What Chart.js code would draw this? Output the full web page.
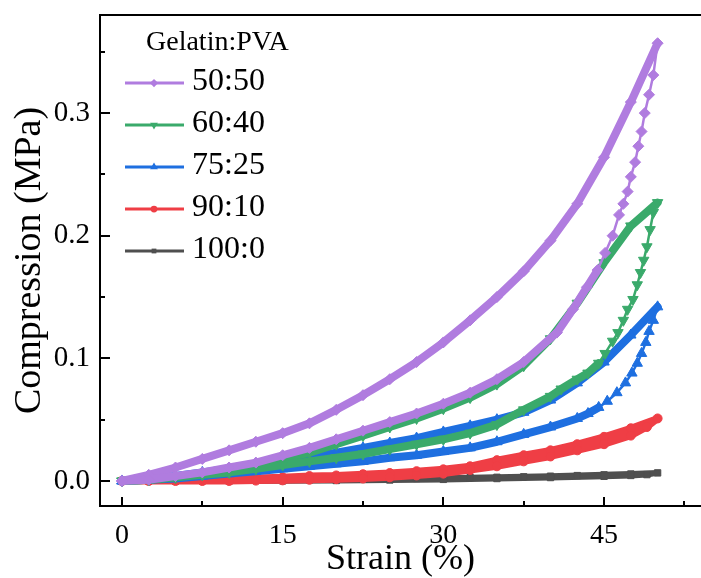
<!DOCTYPE html>
<html>
<head>
<meta charset="utf-8">
<script src="https://cdn.jsdelivr.net/npm/chart.js@4.4.0/dist/chart.umd.min.js"></script>
<style>
  html, body { margin: 0; padding: 0; background: #fff; }
  canvas { display: block; }
</style>
</head>
<body>
<canvas id="chart" width="701" height="578"></canvas>
<script>
// series names and colours
const labels = ["50:50", "60:40", "75:25", "90:10", "100:0"];
const colors = ["#b07cdf", "#3aaa6b", "#1e6fe0", "#ef3e45", "#4f4f4f"];

// loading branch, strain (%) shared by every ratio
const strainLoad = [0, 2.5, 5, 7.5, 10, 12.5, 15, 17.5, 20, 22.5, 25, 27.5, 30, 32.5, 35, 37.5, 40, 42.5, 45, 47.5, 50];
const load5050 = [0, 0.005, 0.011, 0.018, 0.025, 0.032, 0.039, 0.047, 0.058, 0.070, 0.083, 0.097, 0.113, 0.131, 0.150, 0.171, 0.196, 0.226, 0.264, 0.309, 0.357];
const load6040 = [0, 0.001, 0.003, 0.006, 0.009, 0.013, 0.018, 0.023, 0.030, 0.037, 0.044, 0.051, 0.059, 0.068, 0.079, 0.094, 0.116, 0.145, 0.178, 0.208, 0.227];
const load7525 = [0, 0.002, 0.004, 0.007, 0.010, 0.013, 0.017, 0.020, 0.023, 0.027, 0.031, 0.035, 0.040, 0.045, 0.050, 0.056, 0.066, 0.080, 0.097, 0.119, 0.142];
const load9010 = [0, 0.0005, 0.001, 0.0015, 0.002, 0.0025, 0.003, 0.004, 0.0045, 0.0055, 0.0065, 0.008, 0.0095, 0.012, 0.017, 0.021, 0.025, 0.030, 0.036, 0.043, 0.051];
const load1000 = [0, 0, 0.0001, 0.0002, 0.0003, 0.0005, 0.0007, 0.0009, 0.0011, 0.0014, 0.0017, 0.002, 0.0023, 0.0027, 0.003, 0.0034, 0.0039, 0.0044, 0.005, 0.0057, 0.0066];

// unloading branches (strain going back to 0)
const strainUnload5050 = [50, 49.6, 49.2, 48.8, 48.5, 48.2, 47.9, 47.5, 47.2, 46.8, 46.4, 45.8, 45.1, 44.4, 43.4, 42.1, 40.6, 37.5, 35, 32.5, 30, 27.5, 25, 22.5, 20, 17.5, 15, 12.5, 10, 7.5, 5, 2.5, 0];
const unload5050 = [0.357, 0.331, 0.315, 0.300, 0.285, 0.273, 0.260, 0.248, 0.236, 0.226, 0.217, 0.200, 0.186, 0.172, 0.158, 0.140, 0.121, 0.097, 0.083, 0.072, 0.063, 0.055, 0.048, 0.041, 0.034, 0.027, 0.021, 0.015, 0.011, 0.007, 0.004, 0.001, 0];
const strainUnload6040 = [50, 49.6, 49.3, 49.0, 48.7, 48.4, 48.1, 47.7, 47.2, 46.8, 46.3, 45.8, 45.1, 44.5, 43.5, 42.5, 41, 40, 37.5, 35, 32.5, 30, 27.5, 25, 22.5, 20, 17.5, 15, 12.5, 10, 7.5, 5, 2.5, 0];
const unload6040 = [0.227, 0.219, 0.205, 0.191, 0.180, 0.170, 0.160, 0.148, 0.140, 0.131, 0.121, 0.114, 0.104, 0.096, 0.088, 0.083, 0.075, 0.069, 0.058, 0.046, 0.039, 0.034, 0.030, 0.026, 0.022, 0.019, 0.016, 0.013, 0.010, 0.007, 0.005, 0.003, 0.001, 0];
const strainUnload7525 = [50, 49.6, 49.2, 48.9, 48.5, 48.1, 47.6, 47.0, 46.2, 45.3, 44.5, 43.5, 42.5, 40, 37.5, 35, 32.5, 30, 27.5, 25, 22.5, 20, 17.5, 15, 12.5, 10, 7.5, 5, 2.5, 0];
const unload7525 = [0.142, 0.131, 0.122, 0.113, 0.104, 0.096, 0.088, 0.080, 0.072, 0.065, 0.060, 0.055, 0.051, 0.044, 0.038, 0.032, 0.027, 0.024, 0.021, 0.019, 0.016, 0.014, 0.012, 0.010, 0.008, 0.006, 0.004, 0.002, 0.001, 0];
const strainUnload9010 = [50, 49, 47.5, 45, 42.5, 40, 37.5, 35, 32.5, 30, 27.5, 25, 22.5, 20, 17.5, 15, 12.5, 10, 7.5, 5, 2.5, 0];
const unload9010 = [0.051, 0.044, 0.037, 0.030, 0.025, 0.020, 0.016, 0.012, 0.009, 0.006, 0.0045, 0.003, 0.002, 0.0015, 0.001, 0.0005, 0.0003, 0, 0, 0, 0, 0];
const strainUnload1000 = [50, 49, 47.5, 45, 40, 35, 30, 25, 20, 15, 10, 5, 0];
const unload1000 = [0.0066, 0.0052, 0.0045, 0.0038, 0.0028, 0.002, 0.0013, 0.0008, 0.0004, 0.0001, 0, 0, 0];

// axis ticks
const xTicks = [0, 7.5, 15, 22.5, 30, 37.5, 45, 52.5];
const xLabels = [0, 15, 30, 45];
const yTicks = [0, 0.05, 0.1, 0.15, 0.2, 0.25, 0.3, 0.35];
const yLabels = [0, 0.1, 0.2, 0.3];

const loads = [load5050, load6040, load7525, load9010, load1000];
const unloadX = [strainUnload5050, strainUnload6040, strainUnload7525, strainUnload9010, strainUnload1000];
const unloadY = [unload5050, unload6040, unload7525, unload9010, unload1000];

const markers = [
    { pointStyle: "rectRot", rotation: 0, radius: 5.5 },
    { pointStyle: "triangle", rotation: 180, radius: 6 },
    { pointStyle: "triangle", rotation: 0, radius: 6 },
    { pointStyle: "circle", rotation: 0, radius: 4.5 },
    { pointStyle: "rect", rotation: 0, radius: 4.5 },
];
const bandWidth = [8, 8, 8, 7, 6];

const serif = "'Times New Roman', 'Liberation Serif', serif";

function loop(i) {
    const pts = strainLoad.map((s, k) => ({ x: s, y: loads[i][k] }));
    unloadX[i].forEach((s, k) => {
        if (k > 0) pts.push({ x: s, y: unloadY[i][k] });
    });
    return pts;
}

const datasets = labels.map((label, i) => ({
    label,
    data: loop(i),
    showLine: true,
    borderColor: colors[i],
    backgroundColor: colors[i],
    borderWidth: bandWidth[i],
    borderJoinStyle: "round",
    borderCapStyle: "round",
    pointStyle: markers[i].pointStyle,
    rotation: markers[i].rotation,
    pointRadius: markers[i].radius,
    pointBorderWidth: 1,
    pointBorderColor: colors[i],
    pointBackgroundColor: colors[i],
    segment: {
        // sparse points near the peak: thin line with separate markers
        borderWidth: (ctx) => {
            const d = ctx.chart.data.datasets[ctx.datasetIndex].data;
            const gap = Math.abs(d[ctx.p1DataIndex].x - d[ctx.p0DataIndex].x);
            return gap < 0.95 ? 2.5 : bandWidth[ctx.datasetIndex];
        },
    },
}));

const framePlugin = {
    id: "frame",
    afterDraw(chart) {
        const { ctx, chartArea: a } = chart;
        const x = chart.scales.x;
        const y = chart.scales.y;
        ctx.save();
        ctx.strokeStyle = "#000";
        ctx.lineWidth = 2;
        ctx.beginPath();
        ctx.moveTo(a.right + 2, a.top);
        ctx.lineTo(a.left, a.top);
        ctx.lineTo(a.left, a.bottom);
        ctx.lineTo(a.right + 2, a.bottom);
        ctx.stroke();

        ctx.beginPath();
        xTicks.forEach((v) => {
            const px = Math.round(x.getPixelForValue(v));
            const len = xLabels.includes(v) ? 9 : 5;
            ctx.moveTo(px, a.bottom);
            ctx.lineTo(px, a.bottom - len);
        });
        yTicks.forEach((v) => {
            const py = Math.round(y.getPixelForValue(v));
            const len = yLabels.includes(v) ? 10 : 5;
            ctx.moveTo(a.left, py);
            ctx.lineTo(a.left + len, py);
        });
        ctx.stroke();

        // legend: line + marker, label on the right
        ctx.fillStyle = "#000";
        ctx.textBaseline = "middle";
        ctx.textAlign = "left";
        ctx.font = "28px " + serif;
        ctx.fillText("Gelatin:PVA", 146, 43);
        ctx.font = "32px " + serif;
        labels.forEach((label, i) => {
            const ly = 83 + i * 42;
            ctx.strokeStyle = colors[i];
            ctx.lineWidth = 3;
            ctx.beginPath();
            ctx.moveTo(125, ly);
            ctx.lineTo(184, ly);
            ctx.stroke();
            ctx.fillStyle = colors[i];
            Chart.helpers.drawPoint(ctx, {
                pointStyle: markers[i].pointStyle,
                rotation: markers[i].rotation,
                radius: markers[i].radius * 0.75,
                borderWidth: 0,
            }, 154, ly);
            ctx.fillStyle = "#000";
            ctx.fillText(label, 192, ly - 1);
        });
        ctx.restore();
    },
};

function noPad(s) {
    s.paddingTop = 0;
    s.paddingBottom = 0;
    s.paddingLeft = 0;
    s.paddingRight = 0;
}

new Chart(document.getElementById("chart"), {
    type: "scatter",
    data: { datasets },
    plugins: [framePlugin],
    options: {
        responsive: false,
        animation: false,
        devicePixelRatio: 1,
        layout: { autoPadding: false, padding: { top: 15, right: 0, left: 0, bottom: 0 } },
        plugins: {
            legend: { display: false },
            tooltip: { enabled: false },
        },
        scales: {
            x: {
                type: "linear",
                min: -2.05,
                max: 54.05,
                afterFit: (s) => { s.height = 72; noPad(s); },
                afterBuildTicks: (s) => { s.ticks = xTicks.map((v) => ({ value: v })); },
                grid: { display: false, drawTicks: false },
                border: { display: false },
                ticks: {
                    autoSkip: false,
                    maxRotation: 0,
                    padding: 13,
                    color: "#000",
                    font: { family: serif, size: 28 },
                    callback: (v) => (xLabels.includes(v) ? String(v) : ""),
                },
                title: {
                    display: true,
                    text: "Strain (%)",
                    color: "#000",
                    font: { family: serif, size: 36, lineHeight: 1.0 },
                    padding: { top: 0, bottom: 0 },
                },
            },
            y: {
                type: "linear",
                min: -0.0204,
                max: 0.38,
                afterFit: (s) => { s.width = 100; noPad(s); },
                afterBuildTicks: (s) => { s.ticks = yTicks.map((v) => ({ value: v })); },
                grid: { display: false, drawTicks: false },
                border: { display: false },
                ticks: {
                    autoSkip: false,
                    padding: 10,
                    color: "#000",
                    font: { family: serif, size: 29 },
                    callback: (v) => (yLabels.includes(v) ? v.toFixed(1) : ""),
                },
                title: {
                    display: true,
                    text: "Compression (MPa)",
                    color: "#000",
                    font: { family: serif, size: 38 },
                    padding: { top: 7, bottom: 0 },
                },
            },
        },
    },
});
</script>
</body>
</html>
